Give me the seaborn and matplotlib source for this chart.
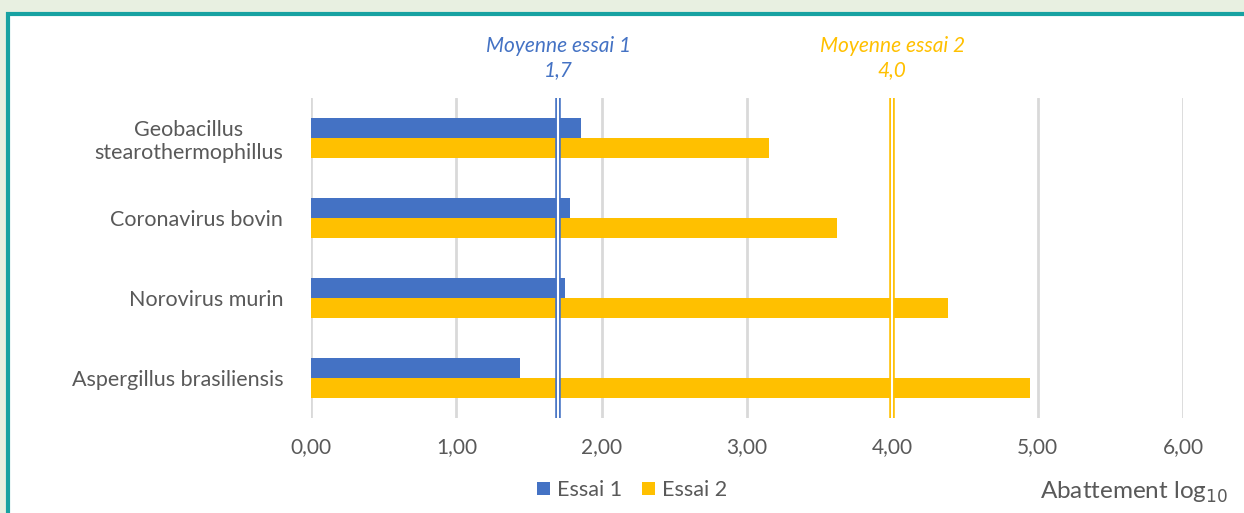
import numpy as np
import matplotlib.pyplot as plt
import seaborn as sns
import pandas as pd
from matplotlib.patches import Rectangle

sns.set_theme(style="white")
plt.rcParams["font.family"] = ["Lato", "DejaVu Sans"]

# data
organismes = ["Geobacillus\nstearothermophillus", "Coronavirus bovin",
              "Norovirus murin", "Aspergillus brasiliensis"]
essai1 = [1.86, 1.78, 1.75, 1.44]
essai2 = [3.15, 3.62, 4.38, 4.95]
moyenne1 = 1.7
moyenne2 = 4.0
ticks_x = [0, 1, 2, 3, 4, 5, 6]

blue = "#4472C4"
yellow = "#FFC000"
grey = "#595959"

df = pd.DataFrame({
    "Organisme": organismes * 2,
    "Abattement": essai1 + essai2,
    "Essai": ["Essai 1"] * 4 + ["Essai 2"] * 4,
})

fig = plt.figure(figsize=(12.44, 5.13), dpi=100)
fig.patch.set_facecolor("#E8F0E1")
fig.patches.append(Rectangle((8 / 1244, -0.05), 1.2, 1 - 14 / 513 + 0.05,
                             transform=fig.transFigure, facecolor="white",
                             edgecolor="#17A2A2", linewidth=3, zorder=-5))

ax = fig.add_axes([311 / 1244, 1 - 418 / 513, 872 / 1244, 320 / 513])
ax.set_zorder(2)
ax.patch.set_alpha(0)
sns.barplot(data=df, y="Organisme", x="Abattement", hue="Essai",
            orient="h", palette=[blue, yellow], saturation=1, width=0.5,
            gap=0, linewidth=0, ax=ax, zorder=3)

ax.set_xlim(0, 6)
ax.set_ylim(3.5, -0.5)
ax.set_xticks(ticks_x)
ax.set_xticklabels(["{:.2f}".format(t).replace(".", ",") for t in ticks_x],
                   fontsize=15, color=grey)
ax.tick_params(axis="x", length=0, pad=14)
ax.tick_params(axis="y", length=0, pad=20)
for lab in ax.get_yticklabels():
    lab.set_multialignment("center")
    lab.set_fontsize(15.5)
    lab.set_color(grey)
ax.grid(axis="x", color="#D9D9D9", linewidth=2, zorder=0)
ax.set_axisbelow(True)
for s in ax.spines.values():
    s.set_visible(False)
ax.set_xlabel("")
ax.set_ylabel("")

# mean lines (double line style)
for m, c in [(moyenne1, blue), (moyenne2, yellow)]:
    ax.axvline(m, color=c, linewidth=4, zorder=5)
    ax.axvline(m, color="white", linewidth=1.5, zorder=6)

for m, c, lab in [(moyenne1, blue, "Moyenne essai 1\n1,7"),
                  (moyenne2, yellow, "Moyenne essai 2\n4,0")]:
    ax.text(m, 1 + (418 - 58) / 320 - 1, lab, transform=ax.get_xaxis_transform(),
            ha="center", va="center", color=c, style="italic", fontsize=15,
            linespacing=1.3)

ax.get_legend().remove()
handles, labels = ax.get_legend_handles_labels()
fig.legend(handles, labels, loc="center", bbox_to_anchor=(0.508, 1 - 490 / 513),
           ncol=2, frameon=False, fontsize=15.5, labelcolor=grey,
           handlelength=0.6, handleheight=0.6, handletextpad=0.35,
           columnspacing=0.9)

fig.text(1228 / 1244, 1 - 492 / 513, r"Abattement log$_{10}$", ha="right",
         va="center", fontsize=17.5, color=grey)

fig.savefig("out.png", dpi=100, facecolor=fig.get_facecolor())
